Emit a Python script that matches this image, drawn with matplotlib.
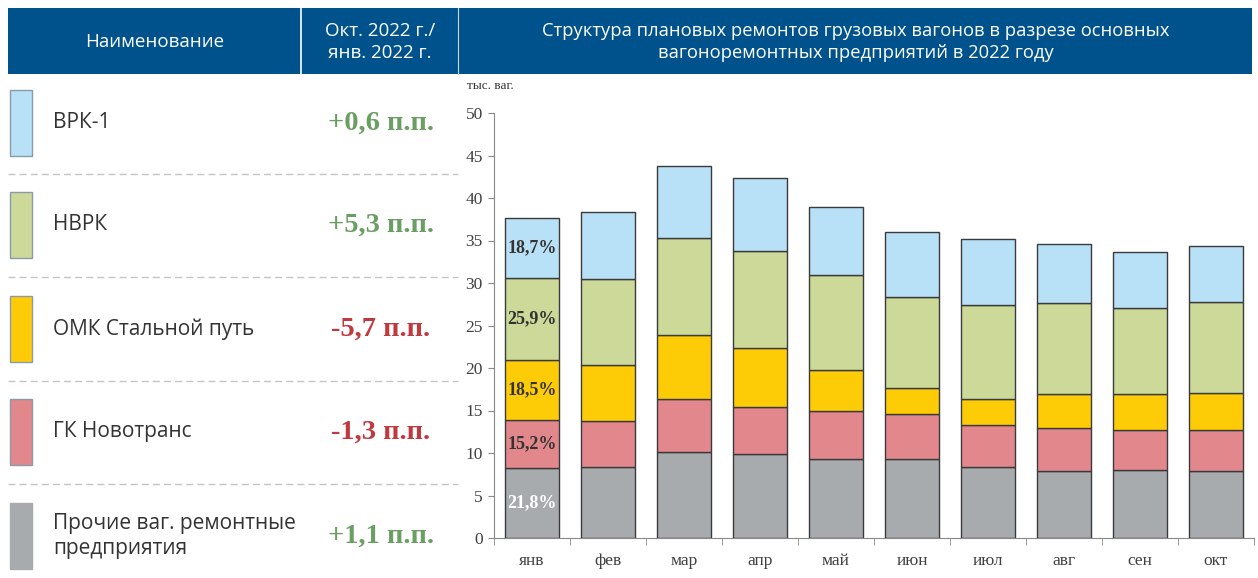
import numpy as np
import matplotlib
matplotlib.use("Agg")
import matplotlib.pyplot as plt
from matplotlib.patches import Rectangle

# months and stacked segments, thousand wagons
months = ["янв", "фев", "мар", "апр", "май", "июн", "июл", "авг", "сен", "окт"]
prochie = [8.2, 8.3, 10.15, 9.85, 9.35, 9.25, 8.3, 7.85, 8.0, 7.9]
novotrans = [5.7, 5.5, 6.2, 5.6, 5.55, 5.3, 4.95, 5.05, 4.7, 4.8]
omk = [7.0, 6.5, 7.55, 6.95, 4.9, 3.15, 3.05, 4.0, 4.2, 4.4]
nvrk = [9.7, 10.2, 11.4, 11.4, 11.2, 10.6, 11.1, 10.7, 10.2, 10.7]
vrk1 = [7.1, 7.8, 8.5, 8.5, 8.0, 7.7, 7.8, 7.0, 6.55, 6.6]

# share in january, %
jan_shares = ["21,8%", "15,2%", "18,5%", "25,9%", "18,7%"]

# left table (top to bottom)
names = ["ВРК-1", "НВРК", "ОМК Стальной путь", "ГК Новотранс",
         "Прочие ваг. ремонтные\nпредприятия"]
changes = ["+0,6 п.п.", "+5,3 п.п.", "-5,7 п.п.", "-1,3 п.п.", "+1,1 п.п."]

c_blue = "#B8E0F6"
c_green = "#CCD998"
c_yellow = "#FECC07"
c_red = "#E2878B"
c_gray = "#A8ABAE"
header = "#00528C"
pos_col = "#6A9E62"
neg_col = "#C0393F"

W, H = 1258, 578
fig = plt.figure(figsize=(W / 100, H / 100), dpi=100)

# background layer in pixel coords
bg = fig.add_axes([0, 0, 1, 1])
bg.set_xlim(0, W)
bg.set_ylim(H, 0)
bg.axis("off")

bg.add_patch(Rectangle((8, 8), 1244, 66, color=header, lw=0))
bg.plot([301, 301], [8, 74], color="white", lw=1.2)
bg.plot([458, 458], [8, 74], color="#C8D8E8", lw=0.8)

hfont = dict(family="Open Sans", color="white")
bg.text(155, 42, "Наименование", ha="center", va="center", fontsize=13.5, **hfont)
bg.text(380, 42, "Окт. 2022 г./\nянв. 2022 г.", ha="center", va="center",
        linespacing=1.25, fontsize=13.5, **hfont)
bg.text(856, 42, "Структура плановых ремонтов грузовых вагонов в разрезе основных\n"
        "вагоноремонтных предприятий в 2022 году", ha="center", va="center",
        linespacing=1.25, fontsize=13.2, **hfont)

row_cols = [c_blue, c_green, c_yellow, c_red, c_gray]
row_y = [123, 225, 329, 432, 536]
for i in range(5):
    y = row_y[i]
    edge = "#8A9AAA" if i < 4 else c_gray
    bg.add_patch(Rectangle((10, y - 33), 22, 66, facecolor=row_cols[i],
                           edgecolor=edge, lw=1))
    bg.text(53, y, names[i], ha="left", va="center", family="Open Sans",
            fontsize=15, color="#333333", linespacing=1.2)
    col = pos_col if changes[i].startswith("+") else neg_col
    bg.text(381, y, changes[i], ha="center", va="center", family="Liberation Serif",
            fontweight="bold", fontsize=20.5, color=col)
    if i < 4:
        sep = (row_y[i] + row_y[i + 1]) / 2
        bg.plot([8, 458], [sep, sep], color="#C4C4C4", lw=1, dashes=(5, 3))

bg.text(467, 86, "тыс. ваг.", ha="left", va="center", family="Liberation Serif",
        fontsize=9.5, color="#333333")

# chart
ax = fig.add_axes([494 / W, 1 - 538 / H, 760 / W, 425 / H])
x = np.arange(len(months))
stack = [prochie, novotrans, omk, nvrk, vrk1]
cols = [c_gray, c_red, c_yellow, c_green, c_blue]
bottom = np.zeros(len(months))
for vals, c in zip(stack, cols):
    ax.bar(x, vals, bottom=bottom, width=0.71, color=c, edgecolor="#3A3A3A", lw=1)
    bottom += np.array(vals)

# january share labels
bottom = 0
for k, vals in enumerate(stack):
    ax.text(0, bottom + vals[0] / 2, jan_shares[k], ha="center", va="center",
            family="Liberation Serif", fontweight="bold", fontsize=13,
            color="white" if k == 0 else "#333333")
    bottom += vals[0]

ax.set_xlim(-0.5, len(months) - 0.5)
ax.set_ylim(0, 50)
ax.set_yticks(range(0, 51, 5))
ax.set_xticks(x)
ax.set_xticklabels(months)
ax.set_xticks(np.arange(-0.5, len(months), 1), minor=True)
ax.tick_params(axis="x", which="major", length=0, pad=11)
ax.tick_params(axis="x", which="minor", length=5, direction="out", color="#888888")
ax.tick_params(axis="y", length=4, direction="out", color="#888888", pad=4)
for lab in ax.get_xticklabels() + ax.get_yticklabels():
    lab.set_family("Liberation Serif")
    lab.set_fontsize(12.5)
    lab.set_color("#404040")
for s in ["top", "right"]:
    ax.spines[s].set_visible(False)
for s in ["left", "bottom"]:
    ax.spines[s].set_color("#888888")

fig.savefig("out.png", dpi=100)
